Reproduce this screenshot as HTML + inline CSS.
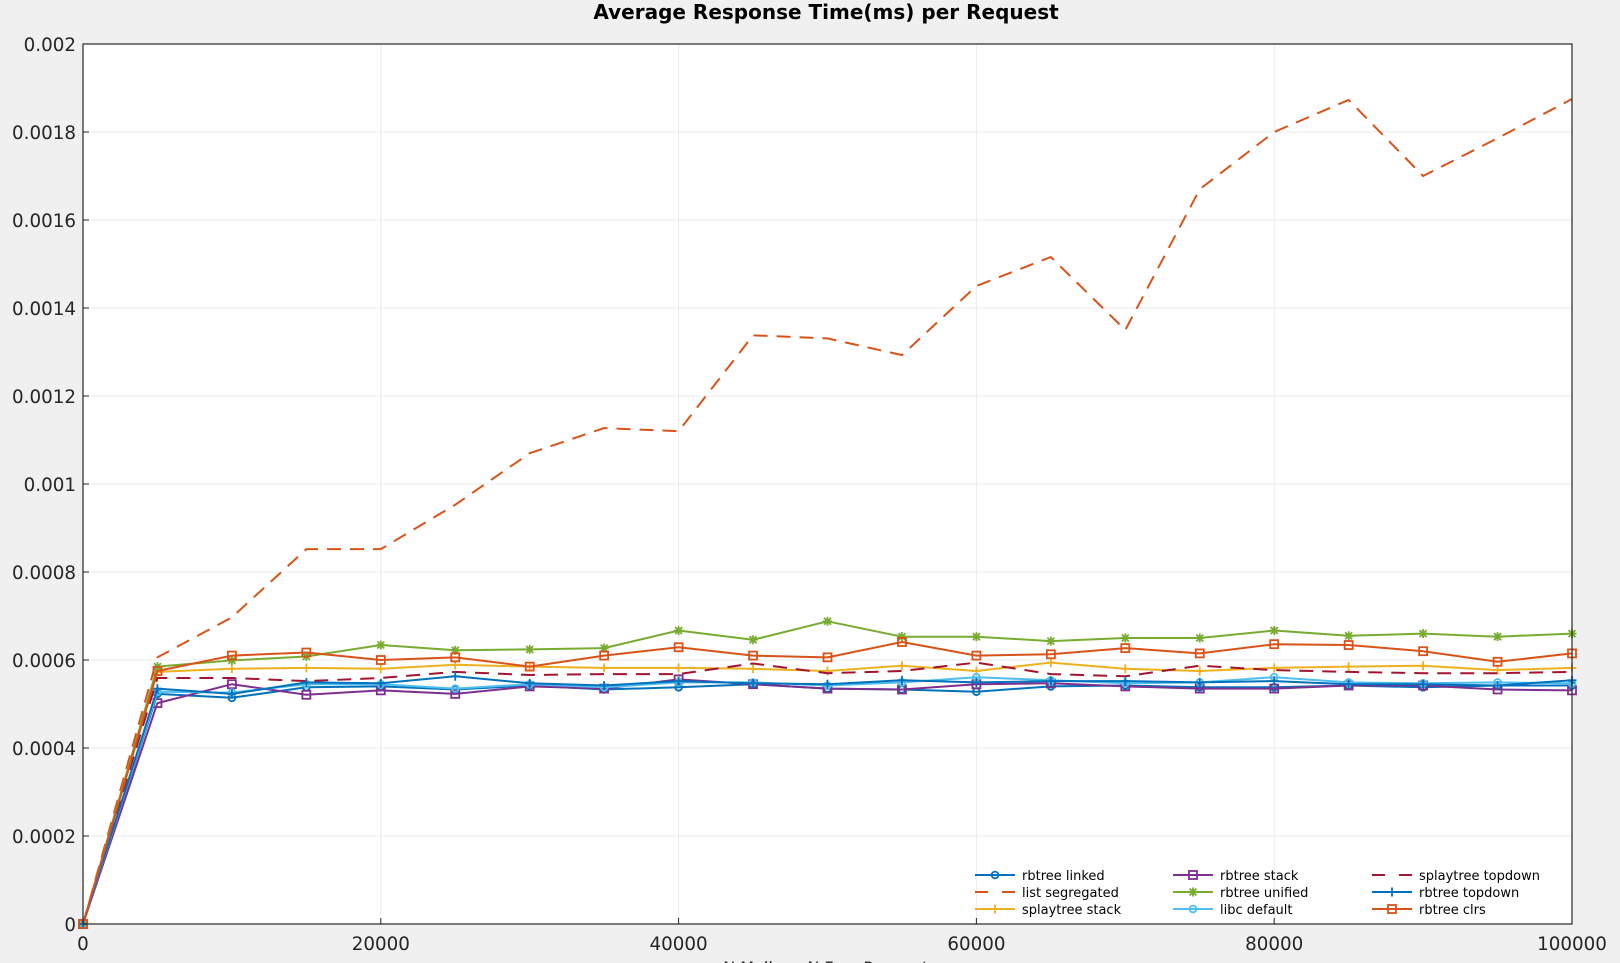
<!DOCTYPE html>
<html><head><meta charset="utf-8"><style>
html,body{margin:0;padding:0;background:#f0f0f0;}
svg{display:block;font-family:"DejaVu Sans","Liberation Sans",sans-serif;}
</style></head><body>
<svg id="chart" width="1620" height="963" xmlns="http://www.w3.org/2000/svg">
<rect x="0" y="0" width="1620" height="963" fill="#f0f0f0"/>
<rect x="83" y="44" width="1489" height="880" fill="#ffffff"/>
<g id="grid"></g>
<g id="series"></g>
<rect x="83" y="44" width="1489" height="880" fill="none" stroke="#262626" stroke-width="1.2"/>
<g id="ticks"></g>
<text x="826" y="19" text-anchor="middle" font-size="20" font-weight="bold" fill="#000">Average Response Time(ms) per Request</text>
<text x="830" y="973" text-anchor="middle" font-size="16" fill="#262626">N Malloc - N Free Requests</text>
<g id="legend"></g>
</svg>
<script>
const xs = [0,5000,10000,15000,20000,25000,30000,35000,40000,45000,50000,55000,60000,65000,70000,75000,80000,85000,90000,95000,100000];
const xTicks = [0,20000,40000,60000,80000,100000];
const yTicks = [0,0.0002,0.0004,0.0006,0.0008,0.001,0.0012,0.0014,0.0016,0.0018,0.002];
const yTickLabels = ["0","0.0002","0.0004","0.0006","0.0008","0.001","0.0012","0.0014","0.0016","0.0018","0.002"];
const rbtreeLinked = [0,0.000523,0.000514,0.000538,0.00054,0.000533,0.000542,0.000533,0.000538,0.000545,0.000535,0.000533,0.000528,0.00054,0.000542,0.000538,0.000538,0.000542,0.000538,0.000542,0.000542];
const listSegregated = [0,0.000606,0.000697,0.000852,0.000852,0.000953,0.00107,0.001127,0.00112,0.001338,0.001331,0.001293,0.00145,0.001516,0.00135,0.00167,0.0018,0.001873,0.0017,0.001786,0.001875];
const splaytreeStack = [0,0.000573,0.00058,0.000582,0.00058,0.000589,0.000585,0.000582,0.000582,0.00058,0.000575,0.000587,0.000575,0.000594,0.00058,0.000575,0.000582,0.000585,0.000587,0.000577,0.000582];
const rbtreeStack = [0,0.000502,0.000545,0.000521,0.000531,0.000523,0.00054,0.000535,0.000556,0.000545,0.000535,0.000533,0.000545,0.000547,0.00054,0.000535,0.000535,0.000542,0.000542,0.000533,0.000531];
const rbtreeUnified = [0,0.000585,0.000599,0.000608,0.000634,0.000622,0.000624,0.000627,0.000667,0.000646,0.000688,0.000653,0.000653,0.000643,0.00065,0.00065,0.000667,0.000655,0.00066,0.000653,0.00066];
const libcDefault = [0,0.000528,0.000526,0.000545,0.000545,0.000535,0.000545,0.000538,0.000549,0.000549,0.000542,0.000549,0.000561,0.000554,0.000547,0.000549,0.000561,0.000549,0.000547,0.000549,0.000547];
const splaytreeTopdown = [0,0.000559,0.000559,0.000552,0.000559,0.000573,0.000566,0.000568,0.000568,0.000592,0.00057,0.000575,0.000594,0.000568,0.000563,0.000587,0.000577,0.000573,0.00057,0.00057,0.000573];
const rbtreeTopdown = [0,0.000535,0.000523,0.000549,0.000547,0.000563,0.000547,0.000542,0.000552,0.000547,0.000545,0.000554,0.000549,0.000552,0.000552,0.000549,0.000552,0.000545,0.000545,0.000542,0.000554];
const rbtreeClrs = [0,0.000575,0.00061,0.000617,0.0006,0.000606,0.000585,0.00061,0.000629,0.00061,0.000606,0.000641,0.00061,0.000613,0.000627,0.000615,0.000636,0.000634,0.00062,0.000596,0.000615];

const L=83,R=1572,T=44,B=924;
const sx = v => L + (v-0)/(100000-0)*(R-L);
const sy = v => B - (v-0)/(0.002-0)*(B-T);
const NS="http://www.w3.org/2000/svg";
function mk(tag, attrs, parent){const e=document.createElementNS(NS,tag);for(const k in attrs)e.setAttribute(k,attrs[k]);parent.appendChild(e);return e;}

const series = [
 {name:"rbtree linked", data:rbtreeLinked, color:"#0072bd", dash:null, marker:"circle", key:"rbtree-linked"},
 {name:"list segregated", data:listSegregated, color:"#d95319", dash:"14,9", marker:null, key:"list-segregated"},
 {name:"splaytree stack", data:splaytreeStack, color:"#edb120", dash:null, marker:"plus", key:"splaytree-stack"},
 {name:"rbtree stack", data:rbtreeStack, color:"#7e2f8e", dash:null, marker:"square", key:"rbtree-stack"},
 {name:"rbtree unified", data:rbtreeUnified, color:"#77ac30", dash:null, marker:"star", key:"rbtree-unified"},
 {name:"libc default", data:libcDefault, color:"#4dbeee", dash:null, marker:"circle", key:"libc-default"},
 {name:"splaytree topdown", data:splaytreeTopdown, color:"#a2142f", dash:"14,9", marker:null, key:"splaytree-topdown"},
 {name:"rbtree topdown", data:rbtreeTopdown, color:"#0072bd", dash:null, marker:"plus", key:"rbtree-topdown"},
 {name:"rbtree clrs", data:rbtreeClrs, color:"#d95319", dash:null, marker:"square", key:"rbtree-clrs"}
];

const grid=document.getElementById('grid');
xTicks.forEach(t=>{const l=mk('line',{x1:sx(t),x2:sx(t),y1:T,y2:B,stroke:'#ebebeb','stroke-width':1},grid);});
yTicks.forEach(t=>{const l=mk('line',{x1:L,x2:R,y1:sy(t),y2:sy(t),stroke:'#ebebeb','stroke-width':1},grid);});

const ticks=document.getElementById('ticks');
xTicks.forEach(t=>{
 mk('line',{x1:sx(t),x2:sx(t),y1:B,y2:B-6,stroke:'#262626','stroke-width':1},ticks);
 const tx=mk('text',{x:sx(t),y:B+26,'text-anchor':'middle','font-size':18.3,fill:'#262626'},ticks);
 tx.textContent=String(t);
 
 
});
yTicks.forEach((t,i)=>{
 mk('line',{x1:L,x2:L+6,y1:sy(t),y2:sy(t),stroke:'#262626','stroke-width':1},ticks);
 const tx=mk('text',{x:L-7,y:sy(t)+7,'text-anchor':'end','font-size':18.3,fill:'#262626'},ticks);
 tx.textContent=yTickLabels[i];
 
 
});

function drawMarker(type,x,y,color,parent){
 if(type==='circle') mk('circle',{cx:x,cy:y,r:3.4,fill:'none',stroke:color,'stroke-width':1.8},parent);
 else if(type==='square') mk('rect',{x:x-4,y:y-4,width:8,height:8,fill:'none',stroke:color,'stroke-width':1.8},parent);
 else if(type==='plus') mk('path',{d:`M${x-4.5},${y}H${x+4.5}M${x},${y-4.5}V${y+4.5}`,stroke:color,'stroke-width':1.8},parent);
 else if(type==='star') mk('path',{d:`M${x-4.5},${y}H${x+4.5}M${x},${y-4.5}V${y+4.5}M${x-3.5},${y-3.5}L${x+3.5},${y+3.5}M${x-3.5},${y+3.5}L${x+3.5},${y-3.5}`,stroke:color,'stroke-width':1.8},parent);
}

const sg=document.getElementById('series');
series.forEach(s=>{
 const g=mk('g',{},sg);
 
 
 const pts=xs.map((x,i)=>sx(x).toFixed(1)+','+sy(s.data[i]).toFixed(1)).join(' ');
 const a={points:pts,fill:'none',stroke:s.color,'stroke-width':2,'stroke-linejoin':'round'};
 if(s.dash)a['stroke-dasharray']=s.dash;
 const pl=mk('polyline',a,g);
 
 
 if(s.marker) xs.forEach((x,i)=>drawMarker(s.marker,sx(x),sy(s.data[i]),s.color,g));
});

const lg=document.getElementById('legend');
const colX=[975,1173,1372], rowY=[875,892,909];
series.forEach((s,i)=>{
 const c=Math.floor(i/3), r=i%3;
 const x0=colX[c], y=rowY[r];
 const g=mk('g',{},lg);
 
 
 const a={x1:x0,x2:x0+40,y1:y,y2:y,stroke:s.color,'stroke-width':2};
 if(s.dash)a['stroke-dasharray']='13,14';
 mk('line',a,g);
 if(s.marker)drawMarker(s.marker,x0+20,y,s.color,g);
 const tx=mk('text',{x:x0+47,y:y+5,'font-size':13,fill:'#000'},g);
 tx.textContent=s.name;
});
</script>
</body></html>
